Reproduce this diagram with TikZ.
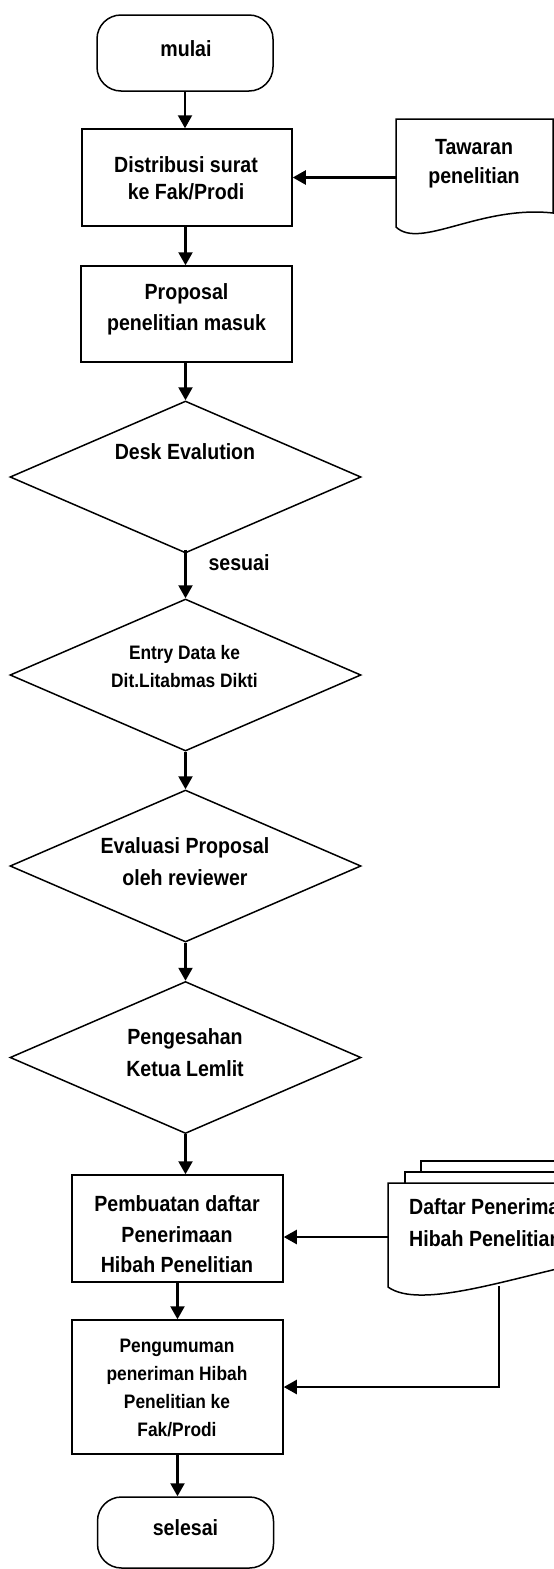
\documentclass[tikz,border=0pt]{standalone}
\usepackage{fontspec}
\setmainfont{Liberation Sans}[FakeStretch=0.89]
\usetikzlibrary{arrows.meta,shapes.geometric}
\newcommand\tfs[2]{\fontsize{#1}{#2}\selectfont\bfseries}
\tikzset{
  shapeline/.style={draw=black, line width=1.5pt, inner sep=0pt},
  procbox/.style={shapeline, rectangle},
  termbox/.style={shapeline, rectangle, rounded corners=24pt},
  decbox/.style={shapeline, diamond, minimum width=351pt, minimum height=152pt},
  anchorbox/.style={inner sep=0pt, rectangle},
  lbl/.style={inner sep=0pt, align=center, text=black},
  flow/.style={draw=black, line width=2.2pt, -{Triangle[width=14pt,length=13pt]}},
  plain/.style={draw=black, line width=2.2pt}
}
\begin{document}
\begin{tikzpicture}[x=1pt,y=-1pt]
\useasboundingbox (0,0) rectangle (554,1569);
\fill[white] (0,0) rectangle (554,1569);
\clip (0,0) rectangle (554,1569);

% terminators and process boxes
\node[termbox, minimum width=176pt, minimum height=76pt] (mulai) at (185,53) {};
\node[procbox, minimum width=210pt, minimum height=97pt] (dist) at (187,177.5) {};
\node[procbox, minimum width=211pt, minimum height=96pt] (prop) at (186.5,314) {};
\node[decbox] (desk) at (185.5,477) {};
\node[decbox] (entry) at (185.5,675) {};
\node[decbox] (eval) at (185.5,866) {};
\node[decbox] (peng) at (185.5,1057.5) {};
\node[procbox, minimum width=211pt, minimum height=107pt] (pemb) at (177.5,1228.5) {};
\node[procbox, minimum width=211pt, minimum height=134pt] (pengum) at (177.5,1387) {};
\node[termbox, minimum width=176pt, minimum height=71pt] (sel) at (185.5,1532.5) {};

% document: Tawaran penelitian
\node[anchorbox, minimum width=157pt, minimum height=108pt] (taw) at (474.5,178) {};
\draw[line width=1.5pt] (396,119) -- (553,119) -- (553,213)
  .. controls (480,205) and (420,250) .. (396,227) -- cycle;

% multi-document: Daftar Penerimaan Hibah Penelitian
\node[anchorbox, minimum width=200pt, minimum height=104pt] (daf) at (488,1237) {};
\draw[line width=1.5pt] (421,1172) -- (421,1161) -- (620,1161);
\draw[line width=1.5pt] (405,1183) -- (405,1172) -- (620,1172);
\draw[line width=1.5pt] (620,1183) -- (388,1183) -- (388,1287)
  .. controls (420,1310) and (510,1278) .. (588,1262);
\coordinate (dafbot) at (499,1286);

% texts
\node[lbl, font=\tfs{22}{27}] (tmulai) at (186,49) {mulai};
\node[lbl, font=\tfs{22}{27}] (tdist) at (186,178) {Distribusi surat\\ke Fak/Prodi};
\node[lbl, font=\tfs{22}{29}] (ttaw) at (474,164) {Tawaran\\penelitian};
\node[lbl, font=\tfs{22}{31}] (tprop) at (186.5,309.5) {Proposal\\penelitian masuk};
\node[lbl, font=\tfs{22}{31}] (tdesk) at (185,452) {Desk Evalution};
\node[lbl, font=\tfs{22}{27}] (tses) at (239,563) {sesuai};
\node[lbl, font=\tfs{19.5}{27.5}] (tentry) at (184.5,666.5) {Entry Data ke\\Dit.Litabmas Dikti};
\node[lbl, font=\tfs{22}{32}] (teval) at (185,862) {Evaluasi Proposal\\oleh reviewer};
\node[lbl, font=\tfs{22}{32}] (tpeng) at (185,1053) {Pengesahan\\Ketua Lemlit};
\node[lbl, font=\tfs{22}{30.5}] (tpemb) at (177,1234.5) {Pembuatan daftar\\Penerimaan\\Hibah Penelitian};
\node[lbl, font=\tfs{22}{32}, align=left, anchor=west] (tdaf) at (409,1223) {Daftar Penerimaan\\Hibah Penelitian};
\node[lbl, font=\tfs{19.5}{28}] (tpengum) at (177,1387.5) {Pengumuman\\peneriman Hibah\\Penelitian ke\\Fak/Prodi};
\node[lbl, font=\tfs{22}{27}] (tsel) at (185.5,1528) {selesai};

% connectors
\draw[flow] (mulai.south) -- (dist.north -| mulai.south);
\draw[flow] (taw.west |- dist.east) -- (dist.east);
\draw[flow] (dist.south -| desk.north) -- (prop.north -| desk.north);
\draw[flow] (prop.south -| desk.north) -- (desk.north);
\draw[flow] ([yshift=4pt]desk.south) -- (entry.north);
\draw[flow] (entry.south) -- (eval.north);
\draw[flow] (eval.south) -- (peng.north);
\draw[flow] (peng.south) -- (peng.south |- pemb.north);
\draw[flow] (daf.west) -- (daf.west -| pemb.east);
\draw[flow] (pemb.south) -- (pengum.north);
\draw[flow] (dafbot) |- (pengum.east);
\draw[flow] (pengum.south) -- (pengum.south |- sel.north);
\end{tikzpicture}
\end{document}
